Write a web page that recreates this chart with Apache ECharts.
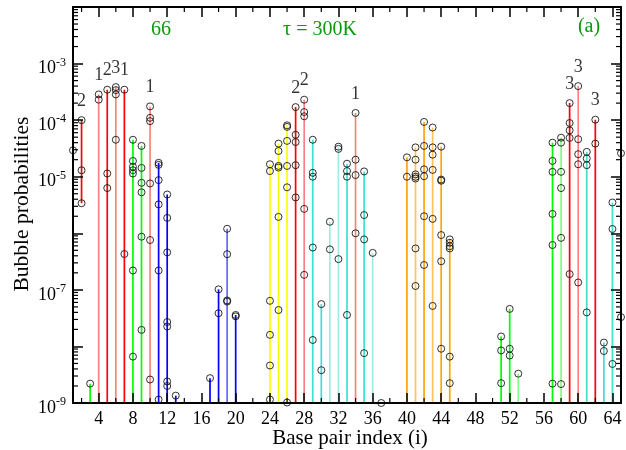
<!DOCTYPE html>
<html><head><meta charset="utf-8">
<script src="https://cdn.jsdelivr.net/npm/echarts@6/dist/echarts.min.js"></script>
<style>html,body{margin:0;padding:0;background:#fff}#c{width:626px;height:450px}</style>
</head><body><div id="c"></div>
<script>
// ---------------- data ----------------
const X_MIN = 1, X_MAX = 65;
const Y_MIN = 1e-9, Y_MAX = 1e-2;
const xMajorTicks = [4,8,12,16,20,24,28,32,36,40,44,48,52,56,60,64];
const xMinorTicks = [2,6,10,14,18,22,26,30,34,38,42,46,50,54,58,62];
const yLabelExponents = [-3,-4,-5,-7,-9];

const bpIndex = [1,2,3,4,5,6,7,8,9,10,11,12,13,17,18,19,20,24,25,26,27,28,29,30,31,32,33,34,35,36,37,40,41,42,43,44,45,51,52,53,57,58,59,60,61,62,63,64,65];
const probabilities = [
  [2.93e-5],
  [1.0e-4, 1.3e-5, 3.4e-6],
  [2.2e-9],
  [2.85e-4, 2.3e-4],
  [3.45e-4, 1.14e-5, 6.3e-6],
  [3.84e-4, 3.4e-4, 2.85e-4, 4.5e-5],
  [3.45e-4, 4.3e-7],
  [4.5e-5, 1.9e-5, 1.5e-5, 1.3e-5, 1.14e-5, 2.2e-7, 6.6e-9],
  [3.5e-5, 1.43e-5, 7.8e-6, 5.3e-6, 8.7e-7, 1.96e-8],
  [1.75e-4, 1.1e-4, 9.6e-5, 7.6e-6, 7.6e-7, 2.6e-9],
  [1.76e-5, 1.62e-5, 8.7e-6, 3.24e-6, 2.2e-7, 1.15e-9],
  [4.85e-6, 1.87e-6, 4.6e-7, 2.7e-8, 2.25e-8, 2.4e-9, 2.0e-9],
  [1.35e-9],
  [2.75e-9],
  [1.02e-7, 3.86e-8],
  [1.2e-6, 4.27e-7, 6.5e-8, 6.2e-8],
  [3.6e-8, 3.4e-8],
  [1.66e-5, 1.26e-5, 6.4e-8, 1.6e-8, 4.6e-9, 1.15e-9],
  [3.85e-5, 2.85e-5, 1.55e-5, 1.45e-5, 1.95e-6, 4.4e-8],
  [8.1e-5, 7.6e-5, 4.3e-5, 1.55e-5, 6.5e-6, 1.02e-9],
  [1.7e-4, 5.5e-5, 4.1e-5, 1.6e-5, 4.3e-6],
  [2.3e-4, 1.39e-4, 1.17e-4, 2.7e-6, 1.84e-7],
  [4.5e-5, 1.17e-5, 1.0e-5, 5.6e-7, 1.3e-8],
  [5.6e-8, 3.8e-9],
  [1.6e-6, 5.2e-7],
  [3.4e-5, 3.1e-5, 3.5e-7],
  [1.7e-5, 1.26e-5, 1.0e-5, 3.6e-8],
  [1.34e-4, 2.0e-5, 1.07e-5, 1.0e-6],
  [1.24e-5, 2.1e-6, 7.8e-7, 7.6e-9],
  [4.5e-7],
  [1.0e-9],
  [2.2e-5, 1.0e-5],
  [3.3e-5, 2.0e-5, 1.1e-5, 1.0e-5, 9.3e-6, 5.4e-7, 1.17e-7],
  [9.3e-5, 3.5e-5, 1.35e-5, 1.02e-5, 2.0e-6, 2.75e-7],
  [7.4e-5, 3.3e-5, 2.45e-5, 1.32e-5, 1.8e-6, 5.2e-8],
  [3.4e-5, 8.9e-6, 8.5e-6, 9.3e-7, 3.2e-7, 9.1e-9],
  [7.8e-7, 6.8e-7, 5.9e-7, 5.4e-7, 6.6e-9, 2.24e-9],
  [1.5e-8, 8.5e-9, 2.24e-9],
  [4.6e-8, 9.1e-9, 6.9e-9],
  [3.3e-9],
  [4.0e-5, 1.9e-5, 1.22e-5, 2.2e-6, 6.2e-7, 2.2e-9],
  [4.9e-5, 4.0e-5, 1.22e-5, 6.3e-6, 8.3e-7, 2.16e-9],
  [2.0e-4, 8.9e-5, 6.6e-5, 4.85e-5, 1.9e-7],
  [4.0e-4, 4.6e-5, 2.5e-5, 1.66e-5, 1.35e-7],
  [2.75e-5, 2.1e-5, 1.6e-5, 4.0e-8],
  [1.02e-4, 3.85e-5],
  [1.17e-8, 8.3e-9],
  [3.5e-6, 1.19e-6, 4.9e-9],
  [2.6e-5, 3.3e-8]
];
// base pairs where some bubble probability is zero (line runs down off the axis)
const hasZeroProb = [3,4,5,6,7,8,9,10,11,12,13,17,18,19,20,24,25,26,27,28,29,30,31,32,33,34,35,36,40,41,42,43,44,45,51,52,53,57,58,59,60,61,62,63,64];
const bubbleLabelIndex = [2,4,5,6,7,10,27,28,34,59,60,62];
const bubbleLabelText  = ['2','1','2','3','1','1','2','2','1','3','3','3'];

// ---------------- styles ----------------
const PAL = {r:'#ff0000', lr:'#ff8080', g:'#00ff00', lg:'#80ff80', b:'#0000ff', lb:'#6666ff',
  y:'#ffff00', t:'#40e0d0', lt:'#9ceee2', o:'#ffa500', lo:'#ffc35a'};
const stemColorKey = {1:'b',2:'r',3:'g',4:'lr',5:'r',6:'lr',7:'r',8:'g',9:'g',10:'lr',11:'b',12:'b',13:'b',
  17:'b',18:'b',19:'lb',20:'b',24:'y',25:'y',26:'y',27:'r',28:'lr',29:'t',30:'t',31:'lt',32:'lt',33:'t',
  34:'lr',35:'t',36:'lt',37:'t',40:'o',41:'lo',42:'o',43:'lo',44:'o',45:'o',51:'g',52:'g',53:'lg',
  57:'g',58:'lg',59:'r',60:'lr',61:'t',62:'r',63:'t',64:'t',65:'lt'};
const FONT = '"Liberation Serif","DejaVu Serif",serif';
const TXT_GREEN = '#0c9a0c';

// ---------------- build ----------------
const stems = [];
const points = [];
bpIndex.forEach((i, k) => {
  const vals = probabilities[k];
  vals.forEach(v => points.push([i, v]));
  const hi = Math.max(...vals);
  const lo = hasZeroProb.includes(i) ? Y_MIN : Math.min(...vals);
  if (hi > lo) stems.push({value: [i, lo, hi], color: PAL[stemColorKey[i]]});
});
const labelPoints = bubbleLabelIndex.map((i, k) => {
  const vals = probabilities[bpIndex.indexOf(i)];
  return {value: [i, Math.max(...vals)], label: {formatter: bubbleLabelText[k]}};
});
const yMinor = [];
for (let e = -9; e < -2; e++) for (let m = 2; m <= 9; m++) yMinor.push([X_MIN, m * Math.pow(10, e)]);
const xMinor = xMinorTicks.map(v => [v, Y_MIN]);

const chart = echarts.init(document.getElementById('c'), null, {renderer: 'canvas'});
const axisLineStyle = {color: '#000', width: 2};
const tickStyle = {color: '#000', width: 1.5};
function xAx(pos, labels) {
  return {
    type: 'value', position: pos, min: X_MIN, max: X_MAX, z: 5,
    axisLine: {show: true, onZero: false, lineStyle: axisLineStyle},
    axisTick: {show: true, inside: true, length: 10, customValues: xMajorTicks, lineStyle: tickStyle},
    axisLabel: {show: labels, customValues: xMajorTicks, fontFamily: FONT, fontSize: 18, color: '#000', margin: 7},
    splitLine: {show: false}
  };
}
function yAx(pos, labels) {
  return {
    type: 'log', logBase: 10, position: pos, min: Y_MIN, max: Y_MAX, splitNumber: 7, z: 5,
    axisLine: {show: true, onZero: false, lineStyle: axisLineStyle},
    axisTick: {show: true, inside: true, length: 10, lineStyle: tickStyle},
    axisLabel: {
      show: labels, margin: 7, padding: [10, 0, 0, 0],
      formatter: v => {
        const e = Math.round(Math.log10(v));
        return yLabelExponents.includes(e) ? '{b|10}{s|' + e + '}' : '';
      },
      rich: {
        b: {fontFamily: FONT, fontSize: 18, color: '#000', lineHeight: 24},
        s: {fontFamily: FONT, fontSize: 12, color: '#000', verticalAlign: 'top'}
      }
    },
    splitLine: {show: false}, minorTick: {show: false}
  };
}

chart.setOption({
  animation: false,
  backgroundColor: '#fff',
  grid: {left: 73, right: 5, top: 7, bottom: 47, containLabel: false},
  xAxis: [xAx('bottom', true), xAx('top', false)],
  yAxis: [yAx('left', true), yAx('right', false)],
  graphic: [
    {type: 'text', x: 161, y: 30, style: {text: '66', fontFamily: FONT, fontSize: 20, fill: TXT_GREEN, align: 'center', verticalAlign: 'middle'}},
    {type: 'text', x: 320, y: 30, style: {text: 'τ = 300K', fontFamily: FONT, fontSize: 20, fill: TXT_GREEN, align: 'center', verticalAlign: 'middle'}},
    {type: 'text', x: 589, y: 27, style: {text: '(a)', fontFamily: FONT, fontSize: 20, fill: TXT_GREEN, align: 'center', verticalAlign: 'middle'}},
    {type: 'text', x: 22, y: 204, rotation: Math.PI / 2, style: {text: 'Bubble probabilities', fontFamily: FONT, fontSize: 21.5, fill: '#000', align: 'center', verticalAlign: 'middle'}},
    {type: 'text', x: 350, y: 438, style: {text: 'Base pair index (i)', fontFamily: FONT, fontSize: 21, fill: '#000', align: 'center', verticalAlign: 'middle'}}
  ],
  series: [
    {
      type: 'custom', name: 'stems', xAxisIndex: 0, yAxisIndex: 0, z: 2, clip: true,
      data: stems.map(s => s.value),
      renderItem: (params, api) => {
        const p1 = api.coord([api.value(0), api.value(1)]);
        const p2 = api.coord([api.value(0), api.value(2)]);
        return {type: 'line', shape: {x1: p1[0], y1: p1[1], x2: p2[0], y2: p2[1]},
          style: {stroke: stems[params.dataIndex].color, lineWidth: 1.7}};
      }
    },
    {
      type: 'scatter', name: 'probabilities', xAxisIndex: 0, yAxisIndex: 0, z: 3, clip: false,
      symbol: 'circle', symbolSize: 7,
      itemStyle: {color: 'rgba(0,0,0,0)', borderColor: '#000', borderWidth: 1},
      data: points
    },
    {
      type: 'scatter', name: 'labels', xAxisIndex: 0, yAxisIndex: 0, z: 4, clip: false,
      symbolSize: 0, silent: true,
      label: {show: true, position: 'top', distance: 10, fontFamily: FONT, fontSize: 18, color: '#000'},
      data: labelPoints
    },
    {
      type: 'custom', name: 'yMinorTicks', z: 6, clip: false, silent: true,
      data: yMinor,
      renderItem: (params, api) => {
        const v = api.value(1);
        const a = api.coord([X_MIN, v]), b = api.coord([X_MAX, v]);
        return {type: 'group', children: [
          {type: 'line', shape: {x1: a[0], y1: a[1], x2: a[0] + 5, y2: a[1]}, style: {stroke: '#000', lineWidth: 1.2}},
          {type: 'line', shape: {x1: b[0] - 5, y1: b[1], x2: b[0], y2: b[1]}, style: {stroke: '#000', lineWidth: 1.2}}
        ]};
      }
    },
    {
      type: 'custom', name: 'xMinorTicks', z: 6, clip: false, silent: true,
      data: xMinor,
      renderItem: (params, api) => {
        const v = api.value(0);
        const a = api.coord([v, Y_MIN]), b = api.coord([v, Y_MAX]);
        return {type: 'group', children: [
          {type: 'line', shape: {x1: a[0], y1: a[1] - 5, x2: a[0], y2: a[1]}, style: {stroke: '#000', lineWidth: 1.2}},
          {type: 'line', shape: {x1: b[0], y1: b[1], x2: b[0], y2: b[1] + 5}, style: {stroke: '#000', lineWidth: 1.2}}
        ]};
      }
    }
  ]
});
</script></body></html>
